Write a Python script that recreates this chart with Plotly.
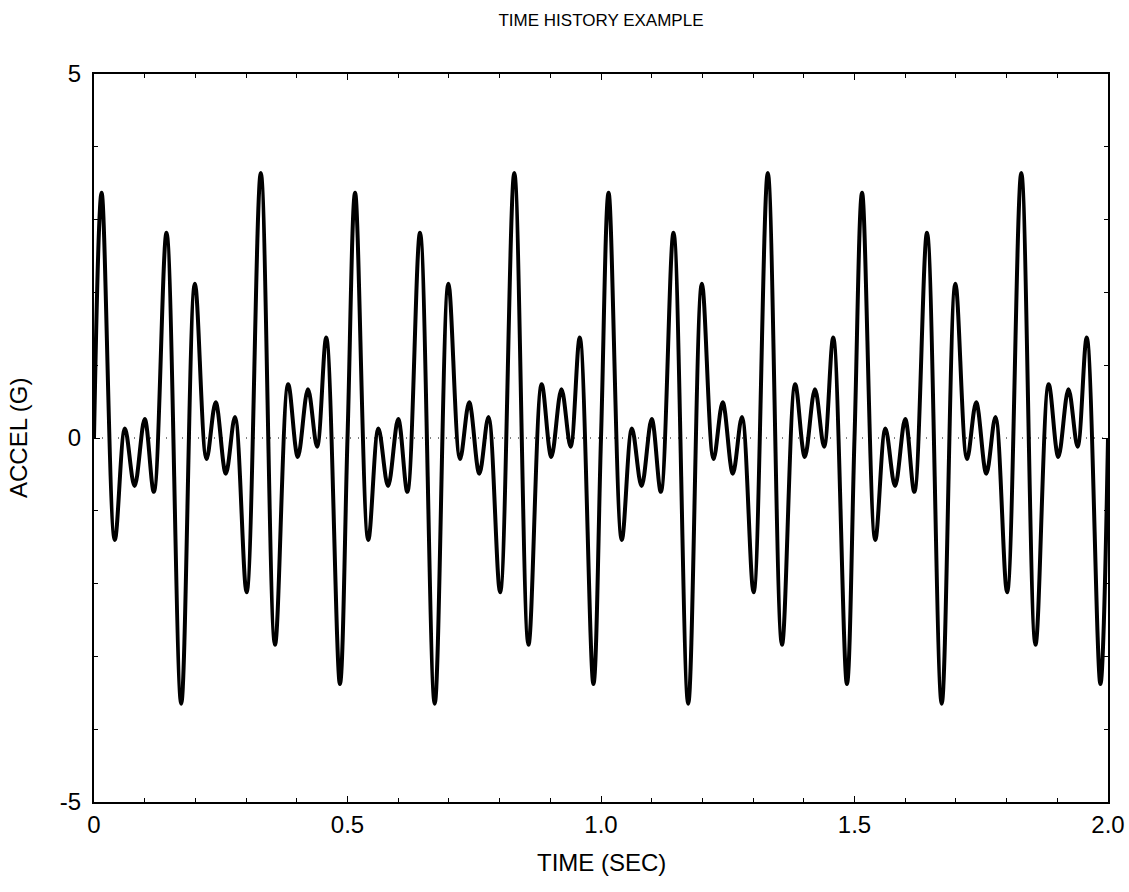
import plotly.graph_objects as go

# Extrema / crossings (time in s, accel in G)
time_s = [
    0.000, 0.015, 0.041, 0.061, 0.080, 0.100, 0.118, 0.143, 0.172, 0.199, 0.222, 0.240,
    0.260, 0.278, 0.301, 0.329, 0.357, 0.383, 0.402, 0.422, 0.440, 0.458, 0.485,
    0.500, 0.515, 0.541, 0.561, 0.580, 0.600, 0.618, 0.643, 0.672, 0.699, 0.722, 0.740,
    0.760, 0.778, 0.801, 0.829, 0.857, 0.883, 0.902, 0.922, 0.940, 0.958, 0.985,
    1.000, 1.015, 1.041, 1.061, 1.080, 1.100, 1.118, 1.143, 1.172, 1.199, 1.222, 1.240,
    1.260, 1.278, 1.301, 1.329, 1.357, 1.383, 1.402, 1.422, 1.440, 1.458, 1.485,
    1.500, 1.515, 1.541, 1.561, 1.580, 1.600, 1.618, 1.643, 1.672, 1.699, 1.722, 1.740,
    1.760, 1.778, 1.801, 1.829, 1.857, 1.883, 1.902, 1.922, 1.940, 1.958, 1.985,
    2.000,
]
accel_g = [
    0.00, 3.37, -1.40, 0.13, -0.66, 0.26, -0.74, 2.82, -3.65, 2.12, -0.29, 0.49,
    -0.49, 0.29, -2.12, 3.64, -2.84, 0.74, -0.26, 0.67, -0.12, 1.38, -3.38,
    0.00, 3.37, -1.40, 0.13, -0.66, 0.26, -0.74, 2.82, -3.65, 2.12, -0.29, 0.49,
    -0.49, 0.29, -2.12, 3.64, -2.84, 0.74, -0.26, 0.67, -0.12, 1.38, -3.38,
    0.00, 3.37, -1.40, 0.13, -0.66, 0.26, -0.74, 2.82, -3.65, 2.12, -0.29, 0.49,
    -0.49, 0.29, -2.12, 3.64, -2.84, 0.74, -0.26, 0.67, -0.12, 1.38, -3.38,
    0.00, 3.37, -1.40, 0.13, -0.66, 0.26, -0.74, 2.82, -3.65, 2.12, -0.29, 0.49,
    -0.49, 0.29, -2.12, 3.64, -2.84, 0.74, -0.26, 0.67, -0.12, 1.38, -3.38,
    0.00,
]

x_tickvals = [0, 0.5, 1.0, 1.5, 2.0]
x_ticktext = ["0", "0.5", "1.0", "1.5", "2.0"]
y_tickvals = [-5, 0, 5]
y_ticktext = ["-5", "0", "5"]

FONT = "Liberation Sans, Arial, sans-serif"

W, H = 1129, 892

fig = go.Figure()
fig.add_trace(go.Scatter(
    x=time_s, y=accel_g, mode="lines",
    line=dict(color="black", width=4, shape="spline", smoothing=1.0),
    showlegend=False, hoverinfo="skip",
))

# dotted zero reference line
fig.add_shape(type="line", xref="x", yref="y", x0=0, x1=2.0, y0=0, y1=0,
              line=dict(color="black", width=1, dash="1px,7px"), layer="below")

axis_common = dict(
    showgrid=False, zeroline=False, showline=True, linecolor="black", linewidth=2,
    mirror="ticks", ticks="inside", ticklen=6, tickwidth=1, tickcolor="black",
    tickfont=dict(family=FONT, size=24, color="black"),
)

fig.update_xaxes(range=[0, 2.0], tickmode="array", tickvals=x_tickvals, ticktext=x_ticktext,
                 minor=dict(dtick=0.1, tick0=0, ticks="inside", ticklen=4, tickcolor="black"),
                 ticklabelstandoff=0, **axis_common)
fig.update_yaxes(range=[-5, 5], tickmode="array", tickvals=y_tickvals, ticktext=y_ticktext,
                 minor=dict(dtick=1, tick0=0, ticks="inside", ticklen=4, tickcolor="black"),
                 ticklabelstandoff=6, **axis_common)

fig.update_layout(
    width=W, height=H,
    margin=dict(l=94, r=21, t=74, b=90, autoexpand=False),
    paper_bgcolor="white", plot_bgcolor="white",
    font=dict(family=FONT, color="black"),
    title=dict(text="TIME HISTORY EXAMPLE", x=(94 + 1108) / 2 / W, xanchor="center",
               y=1 - 20 / H, yanchor="middle", yref="container",
               font=dict(family=FONT, size=17, color="black")),
    annotations=[
        dict(text="TIME (SEC)", xref="paper", yref="paper", x=0.5, y=0,
             yshift=-60, xanchor="center", yanchor="middle", showarrow=False,
             font=dict(family=FONT, size=24, color="black")),
        dict(text="ACCEL (G)", xref="paper", yref="paper", x=0, y=0.5,
             xshift=-76, xanchor="center", yanchor="middle", showarrow=False, textangle=-90,
             font=dict(family=FONT, size=24, color="black")),
    ],
)

fig.write_html(
    "out.html",
    config={"displayModeBar": False},
    post_script="document.body.style.margin='0';document.body.style.overflow='hidden';",
)
